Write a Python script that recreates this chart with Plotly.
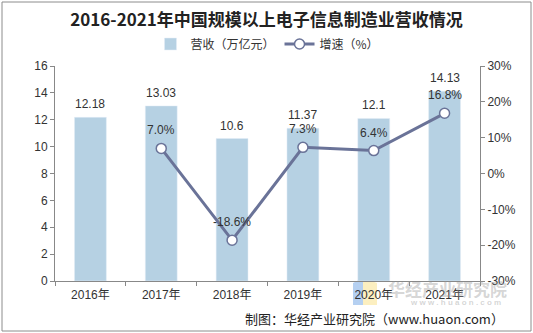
import plotly.graph_objects as go

years = ["2016年", "2017年", "2018年", "2019年", "2020年", "2021年"]
revenue = [12.18, 13.03, 10.6, 11.37, 12.1, 14.13]
rev_labels = ["12.18", "13.03", "10.6", "11.37", "12.1", "14.13"]
growth_years = ["2017年", "2018年", "2019年", "2020年", "2021年"]
growth = [7.0, -18.6, 7.3, 6.4, 16.8]
growth_labels = ["7.0%", "-18.6%", "7.3%", "6.4%", "16.8%"]
left_ticks = [0, 2, 4, 6, 8, 10, 12, 14, 16]
right_ticks = [-30, -20, -10, 0, 10, 20, 30]
right_tick_text = ["-30%", "-20%", "-10%", "0%", "10%", "20%", "30%"]

BAR = "#B6D1E3"
LINE = "#6A7398"
FONT = "Liberation Sans, Arial, Noto Sans CJK SC"

W, H = 533, 333
ML, MR, MT, MB = 55, 53, 66, 52
PW, PH = W - ML - MR, H - MT - MB


def px(x):
    return (x - ML) / PW


def py(y):
    return (MT + PH - y) / PH


fig = go.Figure()
fig.add_trace(go.Bar(x=years, y=revenue, name="营收（万亿元）", marker_color=BAR,
                     width=0.45, yaxis="y"))
fig.add_trace(go.Scatter(x=growth_years, y=growth, name="增速（%）", mode="lines+markers",
                         line=dict(color=LINE, width=3),
                         marker=dict(size=10, color="white", line=dict(color=LINE, width=1.5)),
                         yaxis="y2"))

annotations = []
for x, v, t in zip(years, revenue, rev_labels):
    annotations.append(dict(x=x, y=v, yref="y", text=t, showarrow=False, yshift=13,
                            font=dict(size=12, color="#333333", family=FONT)))
for x, v, t in zip(growth_years, growth, growth_labels):
    annotations.append(dict(x=x, y=v, yref="y2", text=t, showarrow=False, yshift=18,
                            font=dict(size=12, color="#333333", family=FONT)))
# footer
annotations.append(dict(x=px(506), y=py(318), xref="paper", yref="paper",
                        xanchor="right", yanchor="middle", showarrow=False,
                        text="制图：华经产业研究院（www.huaon.com）",
                        font=dict(size=13, color="#222222", family="Noto Sans CJK SC")))
# watermark
annotations.append(dict(x=px(509), y=py(288), xref="paper", yref="paper",
                        xanchor="right", yanchor="middle", showarrow=False,
                        text="<b>华经产业研究院</b>",
                        font=dict(size=17, color="rgba(150,150,150,0.4)", family="Noto Sans CJK SC")))
annotations.append(dict(x=px(503), y=py(302), xref="paper", yref="paper",
                        xanchor="right", yanchor="middle", showarrow=False,
                        text="<b>w w w . h u a o n . c o m</b>",
                        font=dict(size=8, color="rgba(150,150,150,0.4)", family=FONT)))

shapes = [
    dict(type="rect", xref="paper", yref="paper",
         x0=px(2), x1=px(531), y0=py(331), y1=py(2),
         line=dict(color="#8c8c8c", width=1), fillcolor="rgba(0,0,0,0)", layer="below"),
    dict(type="path", xref="paper", yref="paper",
         path=f"M {px(353)},{py(283)} L {px(363)},{py(278)} L {px(363)},{py(305)} L {px(353)},{py(305)} Z",
         fillcolor="rgba(120,170,230,0.55)", line=dict(width=0), layer="below"),
    dict(type="path", xref="paper", yref="paper",
         path=f"M {px(363)},{py(278)} L {px(377)},{py(283)} L {px(377)},{py(305)} L {px(363)},{py(305)} Z",
         fillcolor="rgba(250,225,140,0.55)", line=dict(width=0), layer="below"),
]

fig.update_layout(
    width=W, height=H,
    margin=dict(l=ML, r=MR, t=MT, b=MB),
    paper_bgcolor="white", plot_bgcolor="white",
    title=dict(text="<b>2016-2021年中国规模以上电子信息制造业营收情况</b>",
               x=0.5, xanchor="center", y=1 - 20 / H, yanchor="middle",
               font=dict(size=17, color="#222222", family="Noto Sans CJK SC")),
    legend=dict(orientation="h", x=0.5, xanchor="center", y=1 + (MT - 44) / PH, yanchor="middle",
                font=dict(size=12, color="#333333", family="Noto Sans CJK SC"),
                itemwidth=30, bgcolor="rgba(0,0,0,0)", traceorder="normal"),
    xaxis=dict(type="category", showline=True, linecolor="#888888", ticks="outside",
               tickson="boundaries", ticklen=4, tickcolor="#888888", ticklabelstandoff=3,
               tickfont=dict(size=12, color="#333333", family=FONT), showgrid=False),
    yaxis=dict(range=[0, 16], tickvals=left_ticks, showline=True, linecolor="#888888",
               ticks="outside", ticklen=4, tickcolor="#888888", showgrid=False, zeroline=False,
               tickfont=dict(size=12, color="#333333", family=FONT)),
    yaxis2=dict(range=[-30, 30], tickvals=right_ticks, ticktext=right_tick_text, overlaying="y",
                side="right", showline=True, linecolor="#888888", ticks="outside", ticklen=4,
                tickcolor="#888888", showgrid=False, zeroline=False,
                tickfont=dict(size=12, color="#333333", family=FONT)),
    annotations=annotations, shapes=shapes, showlegend=True,
)

fig.write_html("out.html")
